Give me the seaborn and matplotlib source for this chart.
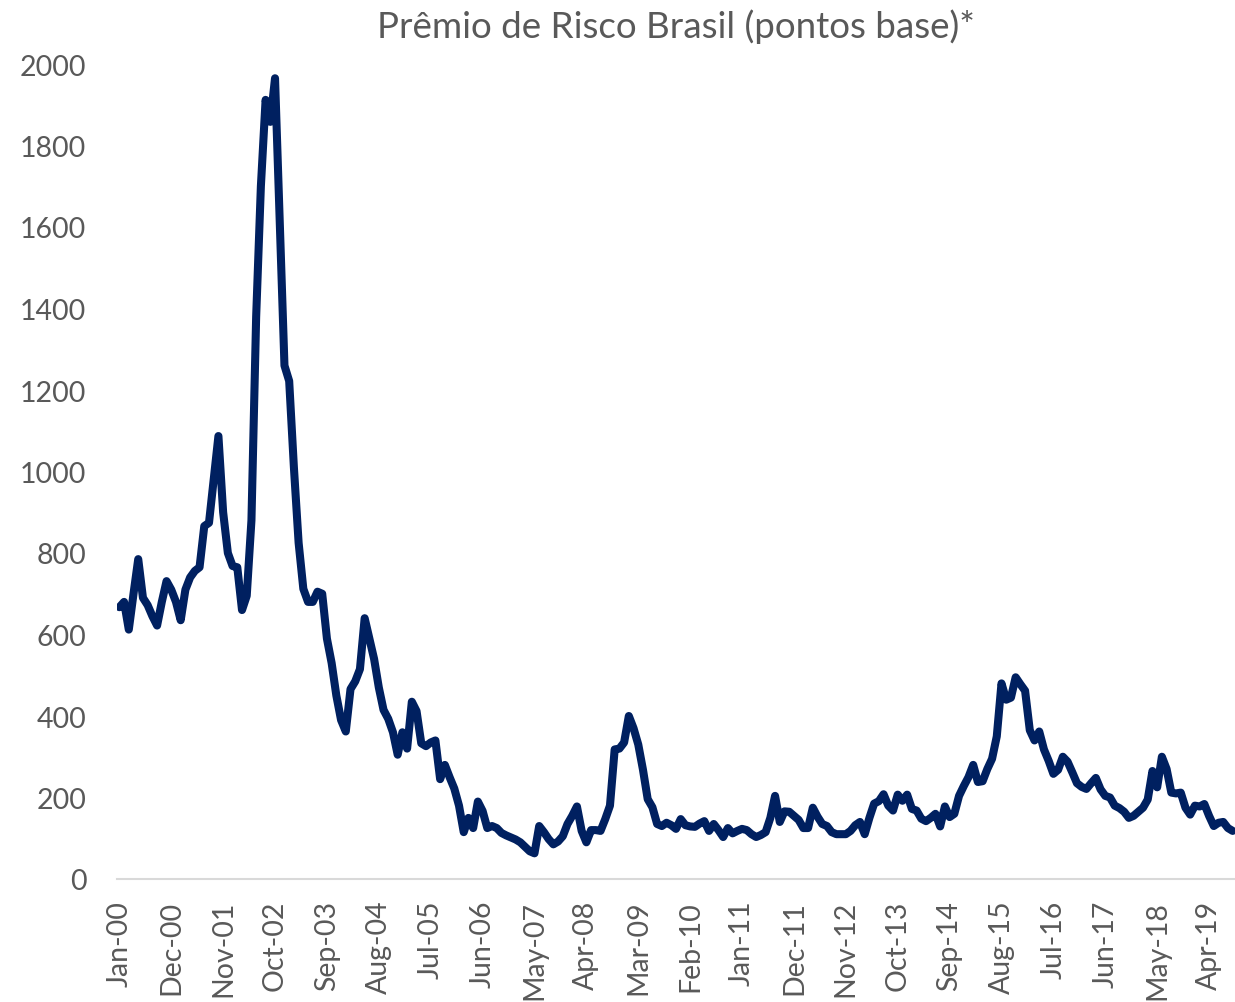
import numpy as np
import pandas as pd
import matplotlib
matplotlib.use("Agg")
import matplotlib.pyplot as plt
import seaborn as sns

# Monthly values, Jan-2000 .. Sep-2019 (basis points)
y2000 = [667, 680, 612, 700, 785, 690, 672, 645, 622, 680, 731, 710]
y2001 = [680, 635, 710, 740, 756, 765, 866, 874, 980, 1087, 900, 800]
y2002 = [768, 765, 660, 695, 880, 1380, 1700, 1912, 1858, 1965, 1610, 1260]
y2003 = [1222, 1010, 825, 712, 680, 680, 705, 700, 590, 530, 450, 390]
y2004 = [362, 466, 485, 515, 640, 590, 540, 470, 415, 393, 360, 305]
y2005 = [360, 320, 435, 412, 333, 326, 335, 340, 245, 280, 250, 222]
y2006 = [180, 115, 150, 125, 190, 167, 125, 130, 125, 113, 107, 102]
y2007 = [97, 90, 79, 68, 63, 130, 115, 98, 85, 92, 105, 135]
y2008 = [155, 178, 118, 90, 120, 120, 118, 147, 180, 318, 320, 335]
y2009 = [400, 370, 330, 268, 196, 176, 135, 130, 138, 132, 123, 147]
y2010 = [132, 129, 128, 136, 142, 118, 135, 120, 103, 125, 112, 118]
y2011 = [123, 120, 110, 103, 108, 115, 150, 204, 140, 166, 165, 155]
y2012 = [145, 125, 125, 175, 153, 135, 130, 115, 110, 110, 110, 118]
y2013 = [132, 140, 110, 150, 185, 191, 208, 180, 168, 207, 192, 207]
y2014 = [172, 168, 148, 142, 150, 160, 129, 178, 152, 160, 204, 228]
y2015 = [250, 280, 238, 240, 270, 295, 350, 480, 440, 445, 495, 478]
y2016 = [462, 365, 340, 362, 318, 290, 258, 268, 300, 288, 262, 235]
y2017 = [226, 221, 235, 248, 220, 204, 200, 180, 174, 165, 150, 155]
y2018 = [165, 175, 195, 265, 225, 300, 270, 212, 210, 212, 175, 158]
y2019 = [180, 178, 184, 155, 130, 138, 140, 125, 118]

years = [y2000, y2001, y2002, y2003, y2004, y2005, y2006, y2007, y2008, y2009,
         y2010, y2011, y2012, y2013, y2014, y2015, y2016, y2017, y2018, y2019]
values = [v for yr in years for v in yr]

tick_labels = ["Jan-00", "Dec-00", "Nov-01", "Oct-02", "Sep-03", "Aug-04", "Jul-05",
               "Jun-06", "May-07", "Apr-08", "Mar-09", "Feb-10", "Jan-11", "Dec-11",
               "Nov-12", "Oct-13", "Sep-14", "Aug-15", "Jul-16", "Jun-17", "May-18",
               "Apr-19"]
y_ticks = [0, 200, 400, 600, 800, 1000, 1200, 1400, 1600, 1800, 2000]
title = "Prêmio de Risco Brasil (pontos base)*"

df = pd.DataFrame({"mes": np.arange(len(values)), "premio": values})

sns.set_theme(style="white")
plt.rcParams["font.family"] = ["Lato", "DejaVu Sans"]

W, H = 1235, 1003
fig = plt.figure(figsize=(W / 100, H / 100), dpi=100)
ax = fig.add_axes([117 / W, (H - 880) / H, (W - 117) / W, (880 - 65) / H])

sns.lineplot(data=df, x="mes", y="premio", ax=ax, color="#002060",
             linewidth=5.8, solid_capstyle="round", solid_joinstyle="round")

ax.set_xlim(-0.5, len(values) - 0.5)
ax.set_ylim(0, 2000)
ax.set_xticks(np.arange(len(tick_labels)) * 11)
ax.set_xticklabels(tick_labels, rotation=90, color="#595959", fontsize=20.5)
ax.set_yticks(y_ticks)
ax.set_yticklabels([str(t) for t in y_ticks], color="#595959", fontsize=20.5)
ax.tick_params(axis="x", length=0, pad=15)
ax.tick_params(axis="y", length=0, pad=22)
ax.set_xlabel("")
ax.set_ylabel("")

for s in ["left", "right", "top"]:
    ax.spines[s].set_visible(False)
ax.spines["bottom"].set_color("#D9D9D9")
ax.spines["bottom"].set_linewidth(1.5)
ax.grid(False)

fig.text((117 + W) / 2 / W, 1 - 27 / H, title, ha="center", va="center",
         fontsize=26.5, color="#595959")

fig.savefig("out.png", dpi=100)
